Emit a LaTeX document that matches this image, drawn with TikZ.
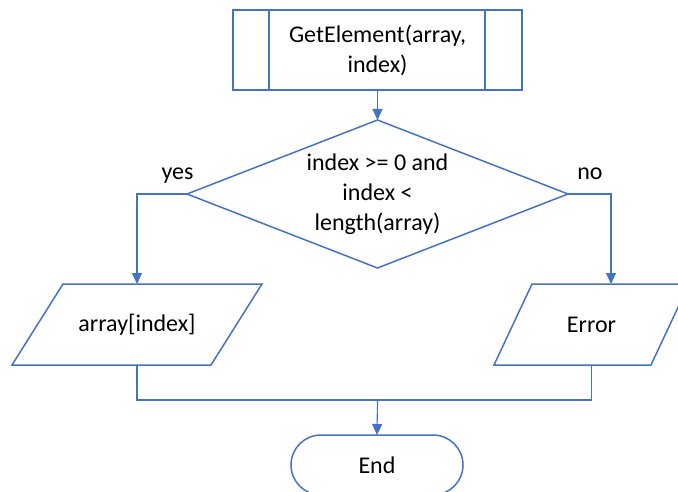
\documentclass[tikz,border=0pt]{standalone}
\usepackage{fontspec}
\setmainfont{Carlito}
\usetikzlibrary{shapes.geometric,shapes.misc,arrows.meta}
\definecolor{ob}{HTML}{4472C4}
\begin{document}
\begin{tikzpicture}[x=1pt,y=-1pt,
  every node/.style={font=\fontsize{24}{30}\selectfont, text=black, align=center, inner sep=0pt, outer sep=0pt},
  shapeline/.style={draw=ob, line width=1.5pt},
  conn/.style={draw=ob, line width=1.1pt},
  arr/.style={conn, -{Triangle[length=11pt,width=10pt]}}]
\useasboundingbox (0,0) rectangle (678,492);
\clip (0,0) rectangle (678,492);
% start (predefined process)
\node[shapeline, minimum width=289pt, minimum height=80pt] (start) at (377.5,50) {GetElement(array,\\index)};
\draw[shapeline] ([xshift=36pt]start.north west) -- ([xshift=36pt]start.south west);
\draw[shapeline] ([xshift=-37pt]start.north east) -- ([xshift=-37pt]start.south east);
% decision
\node[shapeline, diamond, aspect=2.57, minimum width=381pt, minimum height=148pt] (dec) at (377.5,194) {index >= 0 and\\index <\\length(array)};
% outputs
\node[minimum width=199pt, minimum height=81pt] (val) at (137,324.5) {array[index]};
\draw[shapeline] ([xshift=-25.5pt]val.south west) -- ([xshift=-25.5pt]val.south east) -- ([xshift=25.5pt]val.north east) -- ([xshift=25.5pt]val.north west) -- cycle;
\node[minimum width=157pt, minimum height=81pt] (err) at (591.5,324.5) {Error};
\draw[shapeline] ([xshift=-19pt]err.south west) -- ([xshift=-19pt]err.south east) -- ([xshift=19pt]err.north east) -- ([xshift=19pt]err.north west) -- cycle;
% end
\node[shapeline, rounded rectangle, minimum width=172pt, minimum height=60pt] (end) at (377,465) {End};
% connectors
\draw[arr] (start.south) -- (dec.north);
\draw[arr] (dec.west) -| (val.north);
\draw[arr] (dec.east) -| ([xshift=19.5pt]err.north);
\coordinate (join) at (377.5,400);
\draw[conn] (val.south) |- (join) -| (err.south);
\draw[arr] (join) -- (end.north);
% labels
\node[anchor=base] (yes) at (177.5,180) {yes};
\node[anchor=base] (no) at (590,180) {no};
\end{tikzpicture}
\end{document}
